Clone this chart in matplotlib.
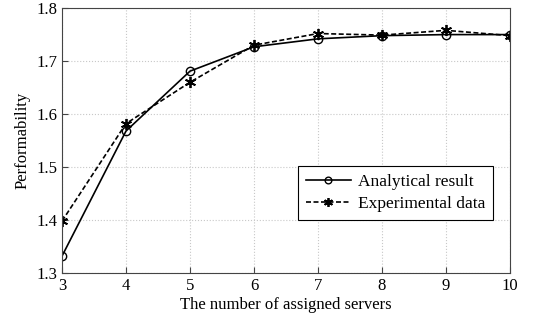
import matplotlib
matplotlib.use("Agg")
import matplotlib.pyplot as plt

servers = [3, 4, 5, 6, 7, 8, 9, 10]
analytical = [1.332, 1.568, 1.681, 1.727, 1.742, 1.748, 1.750, 1.750]
experimental = [1.398, 1.582, 1.660, 1.730, 1.752, 1.749, 1.758, 1.748]
yticks = [1.3, 1.4, 1.5, 1.6, 1.7, 1.8]

plt.rcParams['font.family'] = ['Liberation Serif']
fig = plt.figure(figsize=(5.36, 3.24), dpi=100)
ax = fig.add_axes([0.1157, 0.1574, 0.8358, 0.8176])
ax.plot(servers, analytical, '-', color='black', lw=1.2, marker='o', ms=6,
        mfc='none', mec='black', mew=1.0, label='Analytical result')
ax.plot(servers, experimental, color='black', lw=1.2, dashes=(3, 1.5),
        marker=(6, 2, 0), ms=8, mec='black', mew=1.3, label='Experimental data')
ax.set_xlim(3, 10)
ax.set_ylim(1.3, 1.8)
ax.set_xticks(servers)
ax.set_yticks(yticks)
ax.grid(True, color='#c8c8c8', linestyle=':', linewidth=0.8)
ax.tick_params(direction='in', labelsize=12, length=4, color='#444444')
for s in ax.spines.values():
    s.set_color('#444444')
    s.set_linewidth(0.8)
ax.set_xlabel('The number of assigned servers', fontsize=12, labelpad=2)
ax.set_ylabel('Performability', fontsize=12, labelpad=4)
leg = ax.legend(loc='lower right', bbox_to_anchor=(0.962, 0.20), fontsize=12.5,
                fancybox=False, edgecolor='black', framealpha=1, borderaxespad=0,
                handlelength=2.6, handletextpad=0.4, borderpad=0.45,
                labelspacing=0.35, markerscale=0.8)
leg.get_frame().set_linewidth(0.8)
fig.savefig('out.png', dpi=100)
